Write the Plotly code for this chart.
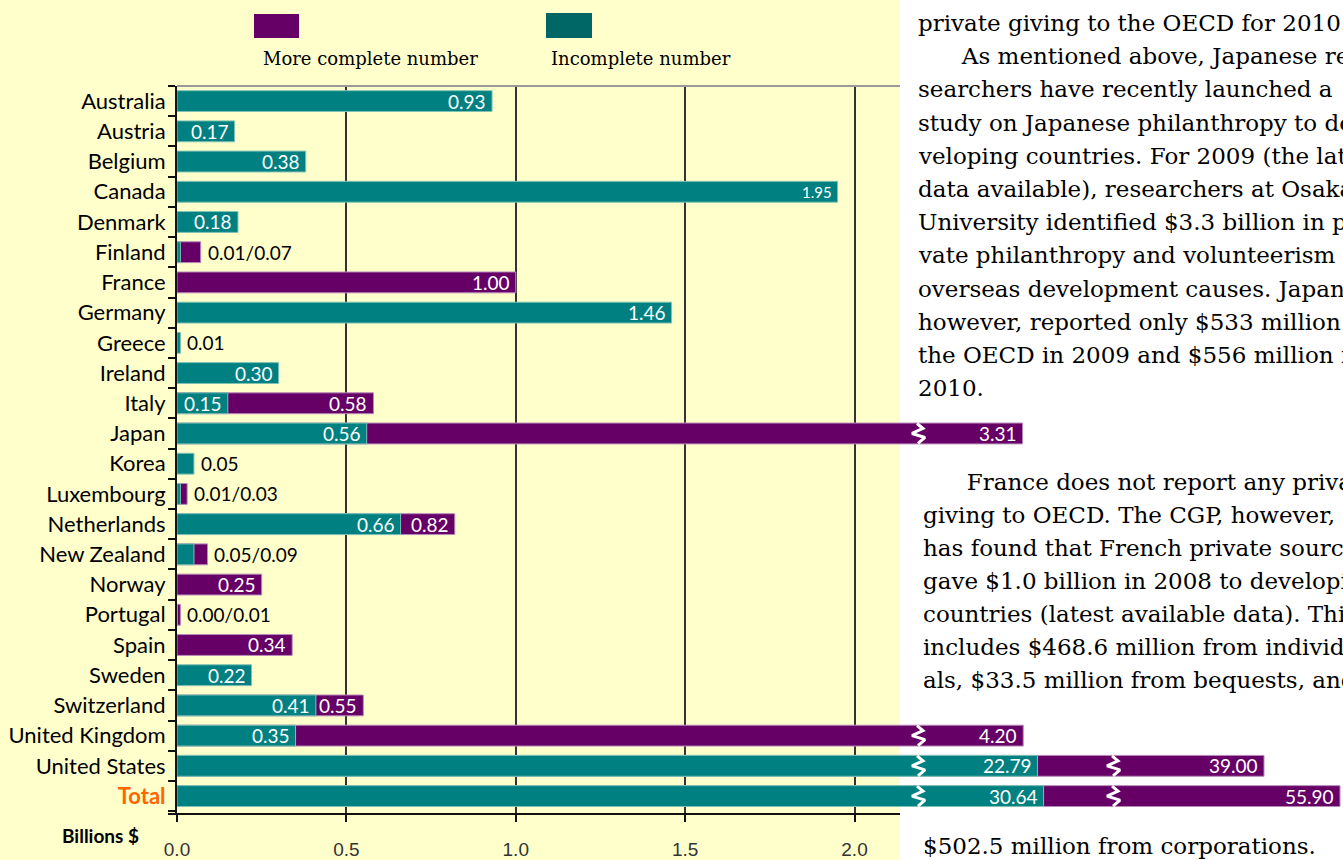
import math
import plotly.graph_objects as go

# ---------------- data ----------------
countries = ["Australia", "Austria", "Belgium", "Canada", "Denmark", "Finland", "France",
             "Germany", "Greece", "Ireland", "Italy", "Japan", "Korea", "Luxembourg",
             "Netherlands", "New Zealand", "Norway", "Portugal", "Spain", "Sweden",
             "Switzerland", "United Kingdom", "United States", "Total"]
incomplete = [0.93, 0.17, 0.38, 1.95, 0.18, 0.01, None, 1.46, 0.01, 0.30, 0.15, 0.56, 0.05,
              0.01, 0.66, 0.05, None, 0.00, None, 0.22, 0.41, 0.35, 22.79, 30.64]
more_complete = [None, None, None, None, None, 0.07, 1.00, None, None, None, 0.58, 3.31, None,
                 0.03, 0.82, 0.09, 0.25, 0.01, 0.34, None, 0.55, 4.20, 39.00, 55.90]
x_ticks = [0.0, 0.5, 1.0, 1.5, 2.0]
x_tick_labels = ["0.0", "0.5", "1.0", "1.5", "2.0"]
legend_names = ["More complete number", "Incomplete number"]
axis_title = "Billions $"

text_para1 = ["private giving to the OECD for 2010.",
              "      As mentioned above, Japanese re-",
              "searchers have recently launched a",
              "study on Japanese philanthropy to de-",
              "veloping countries. For 2009 (the latest",
              "data available), researchers at Osaka",
              "University identified $3.3 billion in pri-",
              "vate philanthropy and volunteerism for",
              "overseas development causes. Japan,",
              "however, reported only $533 million to",
              "the OECD in 2009 and $556 million in",
              "2010."]
text_para2 = ["      France does not report any private",
              "giving to OECD. The CGP, however,",
              "has found that French private sources",
              "gave $1.0 billion in 2008 to developing",
              "countries (latest available data). This",
              "includes $468.6 million from individu-",
              "als, $33.5 million from bequests, and"]
text_para3 = ["$502.5 million from corporations."]

# ---------------- styling / geometry ----------------
PURPLE = "#660066"
TEAL = "#008080"
TEAL_LEG = "#006666"
YELLOW = "#FFFFCC"
L, T, W, H = 177, 86, 1166, 728
PXU = 338.75          # pixels per axis unit on the linear part
ROWPX = 30.22
XMAX = W / PXU
N = len(countries)

# broken axis: linear up to BREAK1, compressed band up to BREAK2, second band beyond
BREAK1, BREAK2 = 2.2, 35.0
BRK1_POS, BRK2_POS = (918 - L) / PXU, (1113 - L) / PXU


def shown(v):
    if v is None:
        return None
    if v <= BREAK1:
        return v
    if v <= BREAK2:
        return (1020 - L) / PXU + 0.77 / PXU * v
    return 2.6912 + 0.013274 * v


def px_x(px):
    return (px - L) / W


def px_y(py):
    return (T + H - py) / H


rows = list(range(N))
fig = go.Figure()

fig.add_trace(go.Bar(
    y=rows, x=[shown(v) for v in more_complete], orientation="h", width=0.69,
    marker=dict(color=PURPLE, line=dict(color="#b98ab9", width=1)), hoverinfo="skip"))
fig.add_trace(go.Bar(
    y=rows, x=[shown(v) for v in incomplete], orientation="h", width=0.69,
    marker=dict(color=TEAL, line=dict(color="#7fc2b5", width=1)), hoverinfo="skip"))

# break marks
zig = [(-1, -10), (5, -5), (-6, 0), (7, 4), (0, 10)]
bx, by = [], []
for i in rows:
    vals = [v for v in (incomplete[i], more_complete[i]) if v is not None]
    top = max(vals)
    for thr, pos in ((BREAK1, BRK1_POS), (BREAK2, BRK2_POS)):
        if top > thr:
            for dx, dy in zig:
                bx.append(pos + dx / PXU)
                by.append(i + dy / ROWPX)
            bx.append(None)
            by.append(None)
fig.add_trace(go.Scatter(x=bx, y=by, mode="lines", line=dict(color="white", width=3),
                         hoverinfo="skip"))

annotations = []
LABEL_FONT = "Lato"
for i in rows:
    inc, comp = incomplete[i], more_complete[i]
    vals = [v for v in (inc, comp) if v is not None]
    if max(vals) < 0.1:
        txt = "/".join(f"{v:.2f}" for v in (inc, comp) if v is not None)
        annotations.append(dict(x=shown(max(vals)), y=i, xref="x", yref="y", text=txt,
                                xanchor="left", xshift=5, showarrow=False,
                                font=dict(family=LABEL_FONT, size=19, color="black")))
        continue
    size = 15 if countries[i] == "Canada" else 19
    for v in (inc, comp):
        if v is None:
            continue
        annotations.append(dict(x=shown(v), y=i, xref="x", yref="y", text=f"{v:.2f}",
                                xanchor="right", xshift=-4, showarrow=False,
                                font=dict(family=LABEL_FONT, size=size, color="white")))

# axis title
annotations.append(dict(x=px_x(60), y=px_y(836), xref="paper", yref="paper", text=f"<b>{axis_title}</b>",
                        xanchor="left", yanchor="middle", showarrow=False,
                        font=dict(family=LABEL_FONT, size=19, color="black")))

# legend
SERIF = "DejaVu Serif"
leg = [(legend_names[0], PURPLE, 254, 299, 14, 38, 261),
       (legend_names[1], TEAL_LEG, 546, 592, 13, 38, 549)]
shapes = [dict(type="rect", xref="paper", yref="paper", x0=px_x(0), x1=px_x(900),
               y0=px_y(860), y1=px_y(0), fillcolor=YELLOW, line=dict(width=0), layer="below")]
for name, col, x0, x1, y0, y1, tx in leg:
    shapes.append(dict(type="rect", xref="paper", yref="paper", x0=px_x(x0), x1=px_x(x1),
                       y0=px_y(y1), y1=px_y(y0), fillcolor=col, line=dict(width=0)))
    annotations.append(dict(x=px_x(tx), y=px_y(59), xref="paper", yref="paper", text=name,
                            xanchor="left", yanchor="middle", showarrow=False,
                            font=dict(family=SERIF, size=18, color="black")))

# top border and bottom axis line of chart panel
shapes.append(dict(type="line", xref="paper", yref="paper", x0=px_x(177), x1=px_x(900),
                   y0=1, y1=1, line=dict(color="#9a9a9a", width=2)))
shapes.append(dict(type="line", xref="paper", yref="paper", x0=px_x(168), x1=px_x(900),
                   y0=0, y1=0, line=dict(color="#111111", width=2)))


# running document text
def add_lines(lines, x_left, y0, step):
    for k, line in enumerate(lines):
        annotations.append(dict(x=px_x(x_left), y=px_y(y0 + k * step), xref="paper", yref="paper",
                                text=line.replace(" ", "&nbsp;") if line.startswith(" ") else line,
                                xanchor="left", yanchor="middle", showarrow=False,
                                font=dict(family=SERIF, size=23, color="black")))


add_lines(text_para1, 916, 23, 33.2)
add_lines(text_para2, 921, 482, 33.0)
add_lines(text_para3, 921, 846, 33.0)

fig.update_layout(
    width=1343, height=860, margin=dict(l=L, r=0, t=T, b=860 - T - H),
    paper_bgcolor="white", plot_bgcolor="rgba(0,0,0,0)", barmode="overlay",
    showlegend=False, shapes=shapes, annotations=annotations,
    xaxis=dict(range=[0, XMAX], tickmode="array", tickvals=x_ticks, ticktext=x_tick_labels,
               showgrid=True, gridcolor="#333333", gridwidth=2, zeroline=False, showline=False,
               ticks="outside", ticklen=7, tickwidth=2, tickcolor="#111111",
               tickfont=dict(family="Liberation Sans", size=19, color="#333333"),
               ticklabelstandoff=11),
    yaxis=dict(range=[(814 - 101) / ROWPX, -0.5], tickmode="array", tickvals=rows,
               ticktext=[f"<b><span style='color:#FF6600'>{c}</span></b>" if c == "Total" else c
                         for c in countries],
               showgrid=False, zeroline=False, showline=True, linecolor="#111111", linewidth=2,
               ticks="", tickfont=dict(family=LABEL_FONT, size=22, color="black"),
               ticklabelstandoff=5,
               minor=dict(tickmode="array", tickvals=[i + 0.5 for i in range(-1, N)],
                          ticks="outside", ticklen=7, tickwidth=2, tickcolor="#111111")),
)

fig.write_html("out.html", config={"displayModeBar": False},
               post_script="document.body.style.margin='0px';")
